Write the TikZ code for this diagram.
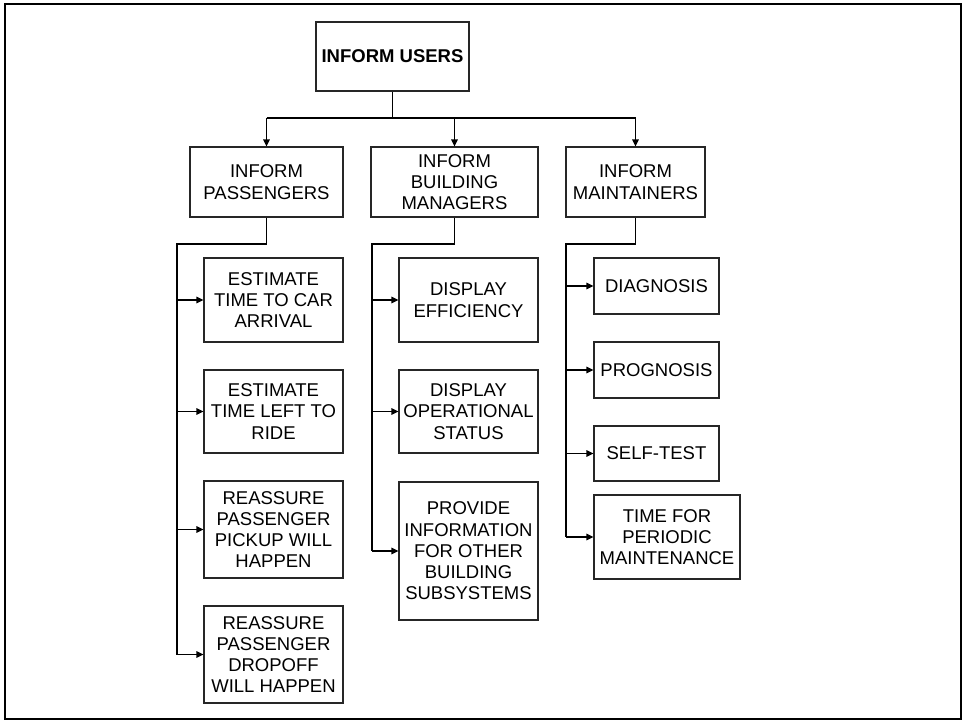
\documentclass[tikz,border=0pt]{standalone}
\usepackage{fontspec}
\setmainfont{Liberation Sans}
\usetikzlibrary{arrows.meta}
\begin{document}
\begin{tikzpicture}[x=1pt,y=-1pt,
  box/.style={draw=black!85,line width=1.1pt,rectangle,align=center,inner sep=0pt,
    font=\fontsize{18.5}{21.3}\selectfont},
  spine/.style={line width=1.8pt},
  arr/.style={line width=1.3pt,-{Triangle[length=7pt,width=6.5pt]}}]
\useasboundingbox (0,0) rectangle (963,720);
% outer frame
\draw[line width=2pt] (5,4) rectangle (961,719);

% root
\node[box,minimum width=153,minimum height=69,font=\fontsize{18.5}{21.3}\selectfont\bfseries]
  (users) at (392.5,56.5) {INFORM USERS};

% second level
\node[box,minimum width=153,minimum height=70] (pass) at (266.5,182) {INFORM\\PASSENGERS};
\node[box,minimum width=167,minimum height=70] (bldg) at (454.5,182) {INFORM\\BUILDING\\MANAGERS};
\node[box,minimum width=139,minimum height=70] (maint) at (635.5,182) {INFORM\\MAINTAINERS};

% passengers branch
\node[box,minimum width=139,minimum height=84] (p1) at (273.5,300) {ESTIMATE\\TIME TO CAR\\ARRIVAL};
\node[box,minimum width=139,minimum height=83] (p2) at (273.5,411.5) {ESTIMATE\\TIME LEFT TO\\RIDE};
\node[box,minimum width=139,minimum height=97] (p3) at (273.5,529.5) {REASSURE\\PASSENGER\\PICKUP WILL\\HAPPEN};
\node[box,minimum width=139,minimum height=97] (p4) at (273.5,654.5) {REASSURE\\PASSENGER\\DROPOFF\\WILL HAPPEN};

% building managers branch
\node[box,minimum width=139,minimum height=84] (b1) at (468.5,300) {DISPLAY\\EFFICIENCY};
\node[box,minimum width=139,minimum height=83] (b2) at (468.5,411.5) {DISPLAY\\OPERATIONAL\\STATUS};
\node[box,minimum width=139,minimum height=138] (b3) at (468.5,551) {PROVIDE\\INFORMATION\\FOR OTHER\\BUILDING\\SUBSYSTEMS};

% maintainers branch
\node[box,minimum width=125,minimum height=56] (m1) at (656.5,286) {DIAGNOSIS};
\node[box,minimum width=125,minimum height=56] (m2) at (656.5,370) {PROGNOSIS};
\node[box,minimum width=125,minimum height=55] (m3) at (656.5,453.5) {SELF-TEST};
\node[box,minimum width=146,minimum height=84] (m4) at (667,537) {TIME FOR\\PERIODIC\\MAINTENANCE};

% root to second level
\coordinate (bus) at (392.5,118);
\draw[spine] (users.south) -- (bus);
\draw[spine] (pass.north|-bus) -- (maint.north|-bus);
\draw[arr] (pass.north|-bus) -- (pass.north);
\draw[arr] (bldg.north|-bus) -- (bldg.north);
\draw[arr] (maint.north|-bus) -- (maint.north);

% passengers spine
\coordinate (ps) at (177,244);
\draw[spine] (pass.south) -- (pass.south|-ps) -- (ps) -- (ps|-p4.west);
\foreach \n in {p1,p2,p3,p4} \draw[arr] (ps|-\n.west) -- (\n.west);

% building spine
\coordinate (bs) at (372,244);
\draw[spine] (bldg.south) -- (bldg.south|-bs) -- (bs) -- (bs|-b3.west);
\foreach \n in {b1,b2,b3} \draw[arr] (bs|-\n.west) -- (\n.west);

% maintainers spine
\coordinate (ms) at (566,244);
\draw[spine] (maint.south) -- (maint.south|-ms) -- (ms) -- (ms|-m4.west);
\foreach \n in {m1,m2,m3,m4} \draw[arr] (ms|-\n.west) -- (\n.west);
\end{tikzpicture}
\end{document}
